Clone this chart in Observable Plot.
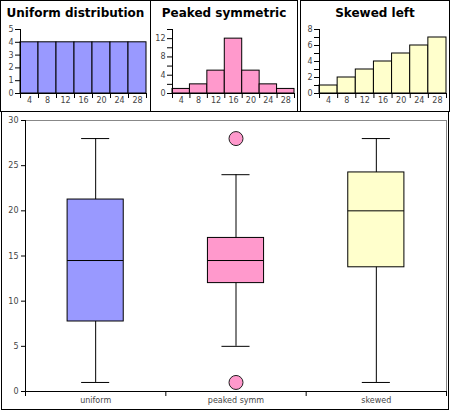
<!DOCTYPE html>
<html>
<head>
<meta charset="utf-8">
<script src="https://cdn.jsdelivr.net/npm/d3@7"></script>
<script src="https://cdn.jsdelivr.net/npm/@observablehq/plot@0.6"></script>
<style>
  html, body { margin: 0; padding: 0; background: #fff; }
  #wrap { position: relative; width: 450px; height: 412px; font-family: "DejaVu Sans", sans-serif; }
  .frame { position: absolute; box-sizing: border-box; border: 1px solid #000; }
  .title { position: absolute; font-weight: bold; font-size: 12px; text-align: center; line-height: 12px; color: #000; }
  .plot { position: absolute; }
  svg { overflow: visible; }
</style>
</head>
<body>
<div id="wrap"></div>
<script>
// ---- Data ----
const binCenters = [4, 8, 12, 16, 20, 24, 28];
const binEdges = [2, 6, 10, 14, 18, 22, 26, 30];
const uniformCounts = [4, 4, 4, 4, 4, 4, 4];
const peakedCounts = [1, 2, 5, 12, 5, 2, 1];
const skewedCounts = [1, 2, 3, 4, 5, 6, 7];
const histTitles = ["Uniform distribution", "Peaked symmetric", "Skewed left"];
const colors = ["#9999ff", "#ff99cc", "#ffffcc"];

const categories = ["uniform", "peaked symm", "skewed"];
const boxQ1 = [7.75, 12, 13.75];
const boxMedian = [14.5, 14.5, 20];
const boxQ3 = [21.25, 17, 24.25];
const whiskerLow = [1, 5, 1];
const whiskerHigh = [28, 24, 28];
const outlierGroup = [1, 1];
const outlierValue = [1, 28];
const boxYTicks = [0, 5, 10, 15, 20, 25, 30];

const wrap = document.getElementById("wrap");
const FONT = "DejaVu Sans, sans-serif";

function addFrame(l, t, w, h) {
  const d = document.createElement("div");
  d.className = "frame";
  Object.assign(d.style, {left: l + "px", top: t + "px", width: w + "px", height: h + "px"});
  wrap.appendChild(d);
}
function addTitle(text, l, w, t) {
  const d = document.createElement("div");
  d.className = "title";
  d.textContent = text;
  Object.assign(d.style, {left: l + "px", width: w + "px", top: t + "px"});
  wrap.appendChild(d);
}
function place(svg, l, t) {
  const d = document.createElement("div");
  d.className = "plot";
  d.style.left = l + "px";
  d.style.top = t + "px";
  d.appendChild(svg);
  wrap.appendChild(d);
}

// ---- Histograms ----
const panels = [
  {counts: uniformCounts, left: 0, width: 151, ml: 20, mr: 5, ymax: 5, yticks: [0,1,2,3,4,5], fmt: d => d},
  {counts: peakedCounts, left: 150, width: 148, ml: 22, mr: 4, ymax: 14, yticks: [0,2,4,6,8,10,12,14], fmt: d => (d % 4 === 0 && d <= 12 ? d : "")},
  {counts: skewedCounts, left: 300, width: 150, ml: 19, mr: 4, ymax: 8, yticks: [0,1,2,3,4,5,6,7,8], fmt: d => (d % 2 === 0 ? d : "")}
];

panels.forEach((p, i) => {
  addFrame(p.left, 0, p.width, 112);
  addTitle(histTitles[i], p.left, p.width, 7);
  const data = binCenters.map((c, j) => ({c, n: p.counts[j]}));
  const svg = Plot.plot({
    width: p.width,
    height: 111,
    marginLeft: p.ml,
    marginRight: p.mr,
    marginTop: 29,
    marginBottom: 18,
    style: {fontFamily: FONT, fontSize: "8px", background: "transparent", overflow: "visible"},
    x: {domain: [2, 30], label: null},
    y: {domain: [0, p.ymax], label: null},
    marks: [
      Plot.rect(data, {x1: d => d.c - 2, x2: d => d.c + 2, y1: 0, y2: "n", fill: colors[i], stroke: "#000", strokeWidth: 1}),
      Plot.ruleY([0], {stroke: "#000"}),
      Plot.ruleX([2], {y1: 0, y2: p.ymax, stroke: "#000"}),
      Plot.axisY({ticks: p.yticks, tickSize: 5, tickPadding: 2, tickFormat: p.fmt, stroke: "#000", fill: "#444", fontSize: 8, label: null}),
      Plot.axisX({ticks: binEdges, tickSize: 5, tickFormat: () => "", stroke: "#000", label: null}),
      Plot.axisX({ticks: binCenters, tickSize: 0, tickPadding: 4, fill: "#444", fontSize: 8, label: null})
    ]
  });
  place(svg, p.left, 0);
});

// ---- Box plot ----
addFrame(1, 111, 448, 299);
const idx = categories.map((_, i) => i);
const boxSvg = Plot.plot({
  width: 450,
  height: 299,
  marginLeft: 25,
  marginRight: 4,
  marginTop: 9,
  marginBottom: 19,
  style: {fontFamily: FONT, fontSize: "8px", background: "transparent", overflow: "visible"},
  x: {domain: [-0.5, 2.5], label: null},
  y: {domain: [0, 30], label: null},
  marks: [
    Plot.frame({stroke: "#888"}),
    // whiskers
    Plot.ruleX(idx, {x: i => i, y1: i => whiskerLow[i], y2: i => whiskerHigh[i], stroke: "#000"}),
    Plot.ruleY(idx, {x1: i => i - 0.1, x2: i => i + 0.1, y: i => whiskerLow[i], stroke: "#000"}),
    Plot.ruleY(idx, {x1: i => i - 0.1, x2: i => i + 0.1, y: i => whiskerHigh[i], stroke: "#000"}),
    // boxes
    Plot.rect(idx, {x1: i => i - 0.2, x2: i => i + 0.2, y1: i => boxQ1[i], y2: i => boxQ3[i], fill: i => colors[i], stroke: "#000", strokeWidth: 1}),
    Plot.ruleY(idx, {x1: i => i - 0.2, x2: i => i + 0.2, y: i => boxMedian[i], stroke: "#000"}),
    // outliers
    Plot.dot(outlierValue.map((v, k) => ({g: outlierGroup[k], v})), {x: "g", y: "v", r: 7, fill: d => colors[d.g], stroke: "#222", strokeWidth: 1}),
    // axes
    Plot.ruleX([-0.5], {stroke: "#000"}),
    Plot.ruleY([0], {stroke: "#000"}),
    Plot.axisY({ticks: boxYTicks, tickSize: 4, tickPadding: 3, stroke: "#000", fill: "#444", fontSize: 8, label: null}),
    Plot.axisX({ticks: [-0.5, 0.5, 1.5, 2.5], tickSize: 5, tickFormat: () => "", stroke: "#000", label: null}),
    Plot.axisX({ticks: [0, 1, 2], tickSize: 0, tickPadding: 6, tickFormat: i => categories[i], fill: "#444", fontSize: 8, label: null})
  ]
});
place(boxSvg, 0, 111);
</script>
</body>
</html>
